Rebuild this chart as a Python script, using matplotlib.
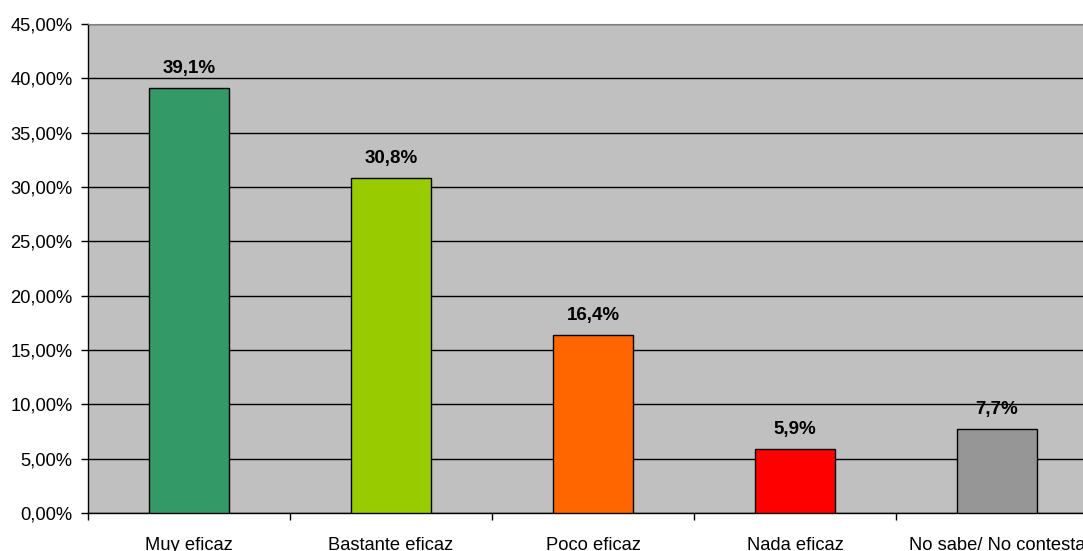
import numpy as np
import matplotlib.pyplot as plt
from matplotlib.ticker import FixedLocator

# Survey answers and their shares (%)
categories = ['Muy eficaz', 'Bastante eficaz', 'Poco eficaz', 'Nada eficaz', 'No sabe/ No contesta']
values = [39.1, 30.8, 16.4, 5.9, 7.7]
value_labels = ['39,1%', '30,8%', '16,4%', '5,9%', '7,7%']
colors = ['#339966', '#99CC00', '#FF6600', '#FF0000', '#969696']
yticks = [0, 5, 10, 15, 20, 25, 30, 35, 40, 45]
ytick_labels = ['0,00%', '5,00%', '10,00%', '15,00%', '20,00%', '25,00%',
                '30,00%', '35,00%', '40,00%', '45,00%']

plt.rcParams['font.family'] = ['Liberation Sans', 'DejaVu Sans']

fig = plt.figure(figsize=(10.83, 5.51), dpi=100)
# plot area runs past the right edge of the image
ax = fig.add_axes([88 / 1083, 38 / 551, 1010 / 1083, 489 / 551])
ax.set_facecolor('#C0C0C0')

x = np.arange(len(categories))
ax.set_axisbelow(True)
ax.yaxis.grid(True, color='black', linewidth=1.0)
bars = ax.bar(x, values, width=0.4, color=colors, edgecolor='black', linewidth=1.0, zorder=3)

for b, lab in zip(bars, value_labels):
    ax.annotate(lab, (b.get_x() + b.get_width() / 2, b.get_height()),
                xytext=(0, 8), textcoords='offset points', ha='center', va='bottom',
                fontsize=13.5, fontweight='bold')

ax.set_xlim(-0.5, len(categories) - 0.5)
ax.set_ylim(0, 45)
ax.set_yticks(yticks)
ax.set_yticklabels(ytick_labels, fontsize=13.2)
ax.tick_params(axis='y', length=5, width=1, pad=6)

# labels centred under the bars, tick marks between categories
ax.set_xticks(x)
ax.set_xticklabels(categories, fontsize=13.2)
ax.tick_params(axis='x', which='major', length=0, pad=17)
ax.xaxis.set_minor_locator(FixedLocator(np.arange(-0.5, len(categories), 1.0)))
ax.tick_params(axis='x', which='minor', length=5, width=1)

ax.spines['top'].set_color('#808080')
ax.spines['right'].set_color('#808080')
for s in ['left', 'bottom']:
    ax.spines[s].set_color('black')
    ax.spines[s].set_linewidth(1.0)

fig.savefig('out.png', dpi=100, facecolor='white')
